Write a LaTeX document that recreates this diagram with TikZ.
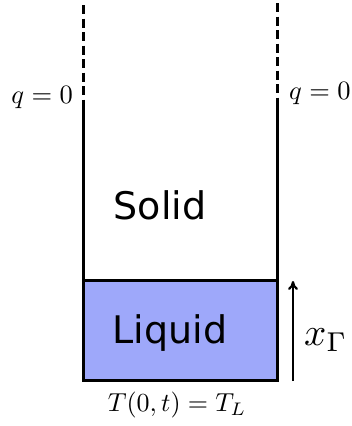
\documentclass[tikz,border=0pt]{standalone}
\usepackage{fontspec}
\usepackage{amsmath}
\usepackage{graphicx}
\setsansfont{DejaVu Sans}
\usetikzlibrary{positioning,arrows.meta}
\definecolor{liqblue}{RGB}{158,168,250}
\newcommand{\bigmath}[2]{\scalebox{#1}{$#2$}}
\tikzset{
  wall/.style={line width=3pt},
  wallopen/.style={line width=3pt,dash pattern=on 9pt off 4.5pt},
  phase/.style={font=\sffamily\fontsize{38}{40}\selectfont,inner sep=0pt},
  bclbl/.style={inner sep=0pt},
  frontarr/.style={-{To[length=9pt,width=10pt]},line width=2.2pt},
}
\begin{document}
\begin{tikzpicture}[x=1pt,y=-1pt]
  \useasboundingbox (0,0) rectangle (351,426);
  % liquid layer
  \fill[liqblue] (83,280) rectangle (277,380);
  % container walls
  \coordinate (lt) at (83,5);
  \coordinate (lm) at (83,100);
  \coordinate (rt) at (277,3);
  \coordinate (rm) at (277,100);
  \coordinate (lb) at (83,380);
  \coordinate (rb) at (277,380);
  \coordinate (li) at (83,280);
  \coordinate (ri) at (277,280);
  \draw[wallopen] (lt)--(lm);
  \draw[wallopen] (rt)--(rm);
  \draw[wall,line cap=butt] (lm)--(lb)--(rb)--(rm);
  \draw[wall] (li)--(ri);
  % labels
  \node[phase] (solid) at (160,205) {Solid};
  \node[phase] (liquid) at (170,333) {Liquid};
  \node[bclbl,anchor=east] (qleft) at (73,98) {\bigmath{2.65}{q=0}};
  \node[bclbl,anchor=west] (qright) at (289,94) {\bigmath{2.65}{q=0}};
  \node[bclbl] (tbot) at (177,405) {\bigmath{2.6}{T(0,t)=T_L}};
  % interface position
  \coordinate (xa) at (293,381);
  \coordinate (xb) at (293,281);
  \draw[frontarr] (xa)--(xb);
  \node[bclbl,anchor=west] (xgam) at (304,340) {\bigmath{3.9}{x_\Gamma}};
\end{tikzpicture}
\end{document}
